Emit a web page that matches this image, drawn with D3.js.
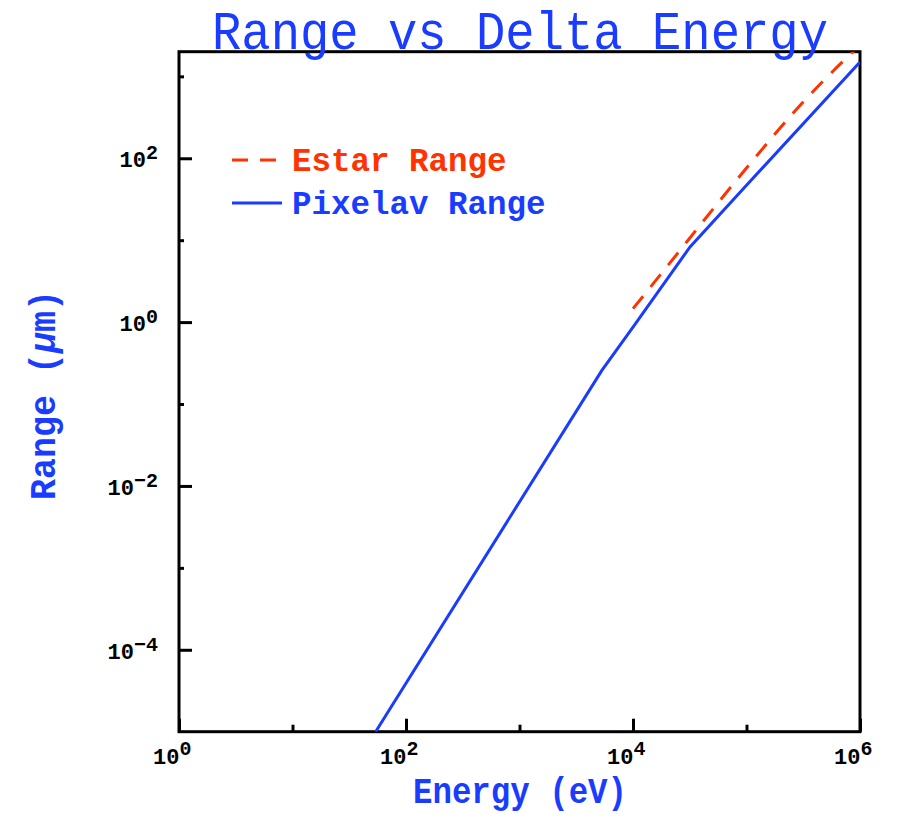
<!DOCTYPE html>
<html>
<head>
<meta charset="utf-8">
<script src="https://cdn.jsdelivr.net/npm/d3@7"></script>
<style>
  html, body { margin: 0; padding: 0; background: #fff; }
  svg { display: block; }
</style>
</head>
<body>
<svg id="chart" width="897" height="814"></svg>
<script>
// Electron range in silicon versus kinetic energy
const energyPixelav = [54, 5300, 10000, 31800, 100000, 1000000];   // eV
const rangePixelav  = [1e-5, 0.256, 0.87, 8.28, 46.8, 1496];       // µm

const energyEstar = [10000, 20000, 55000, 100000, 300000, 700000, 1000000]; // eV
const rangeEstar  = [1.46, 4.8, 27.6, 76, 450, 1500, 2390];               // µm

const xMajorTicks = [1, 1e2, 1e4, 1e6];
const xMinorTicks = [1e1, 1e3, 1e5];
const yMajorTicks = [1e-4, 1e-2, 1, 1e2];
const yMinorTicks = [1e-3, 1e-1, 1e1, 1e3];

const titleText = "Range vs Delta Energy";
const xTitle = "Energy (eV)";
const seriesNames = ["Estar Range", "Pixelav Range"];

const BLUE = "#1a3cff";
const RED = "#ff3300";
const MONO = "'Liberation Mono', 'DejaVu Sans Mono', monospace";

const svg = d3.select("#chart");
const plot = { left: 179, right: 860, top: 51.7, bottom: 731.7 };

const x = d3.scaleLog().domain([1, 1e6]).range([plot.left, plot.right]);
const y = d3.scaleLog().domain([1e-5, 2000]).range([plot.bottom, plot.top]);

// clip region for the curves
svg.append("defs").append("clipPath").attr("id", "plotClip")
  .append("rect")
  .attr("x", plot.left).attr("y", plot.top)
  .attr("width", plot.right - plot.left).attr("height", plot.bottom - plot.top);

// inward ticks
function tickAxis(axis, g) {
  g.call(axis);
  g.select(".domain").remove();
  g.selectAll(".tick line").attr("stroke", "#000").attr("stroke-width", 3);
  g.selectAll(".tick text").remove();
}
const gx = svg.append("g").attr("transform", `translate(0,${plot.bottom})`);
tickAxis(d3.axisBottom(x).tickValues(xMajorTicks).tickSize(-13).tickFormat(""), gx.append("g"));
tickAxis(d3.axisBottom(x).tickValues(xMinorTicks).tickSize(-7).tickFormat(""), gx.append("g"));
const gy = svg.append("g").attr("transform", `translate(${plot.left},0)`);
tickAxis(d3.axisLeft(y).tickValues(yMajorTicks).tickSize(-13).tickFormat(""), gy.append("g"));
tickAxis(d3.axisLeft(y).tickValues(yMinorTicks).tickSize(-5).tickFormat(""), gy.append("g"));

// frame
svg.append("rect")
  .attr("x", plot.left).attr("y", plot.top)
  .attr("width", plot.right - plot.left).attr("height", plot.bottom - plot.top)
  .attr("fill", "none").attr("stroke", "#000").attr("stroke-width", 3);

// power-of-ten labels
const expOf = v => Math.round(Math.log10(v));
const expText = e => (e < 0 ? "\u2212" + (-e) : String(e));

svg.append("g").selectAll("text").data(xMajorTicks).join("text")
  .attr("x", d => x(d)).attr("y", 764)
  .attr("text-anchor", "start")
  .attr("font-family", MONO).attr("font-weight", "bold").attr("font-size", 22)
  .each(function(d) {
    const t = d3.select(this);
    t.append("tspan").attr("dx", -26).text("10");
    t.append("tspan").attr("dy", -9).attr("font-size", 20).text(expText(expOf(d)));
  });

svg.append("g").selectAll("text").data(yMajorTicks).join("text")
  .attr("x", 158).attr("y", d => y(d) + 9)
  .attr("text-anchor", "end")
  .attr("font-family", MONO).attr("font-weight", "bold").attr("font-size", 22)
  .each(function(d) {
    const t = d3.select(this);
    t.append("tspan").text("10");
    t.append("tspan").attr("dy", -8).attr("font-size", 20).text(expText(expOf(d)));
  });

// curves
const line = d3.line().x(d => x(d[0])).y(d => y(d[1]));
const curves = svg.append("g").attr("clip-path", "url(#plotClip)");
curves.append("path")
  .datum(d3.zip(energyEstar, rangeEstar))
  .attr("d", line.curve(d3.curveMonotoneX)).attr("fill", "none")
  .attr("stroke", RED).attr("stroke-width", 3)
  .attr("stroke-dasharray", "16,12");
curves.append("path")
  .datum(d3.zip(energyPixelav, rangePixelav))
  .attr("d", line.curve(d3.curveLinear)).attr("fill", "none")
  .attr("stroke", BLUE).attr("stroke-width", 3);

// legend
const legend = svg.append("g");
const legendRows = [
  { name: seriesNames[0], color: RED, dash: "16,12", y: 160 },
  { name: seriesNames[1], color: BLUE, dash: null, y: 203 }
];
legendRows.forEach(r => {
  legend.append("line")
    .attr("x1", 232).attr("x2", 282).attr("y1", r.y).attr("y2", r.y)
    .attr("stroke", r.color).attr("stroke-width", 3)
    .attr("stroke-dasharray", r.dash);
  legend.append("text")
    .attr("x", 292).attr("y", r.y + 11)
    .attr("font-family", MONO).attr("font-weight", "bold").attr("font-size", 33)
    .attr("fill", r.color)
    .attr("textLength", r.name.length * 19.5).attr("lengthAdjust", "spacingAndGlyphs")
    .text(r.name);
});

// title
svg.append("text")
  .attr("x", 520).attr("y", 49)
  .attr("text-anchor", "middle")
  .attr("font-family", MONO).attr("font-size", 54)
  .attr("fill", BLUE)
  .attr("textLength", 616).attr("lengthAdjust", "spacingAndGlyphs")
  .text(titleText);

// axis titles
svg.append("text")
  .attr("x", 520).attr("y", 803)
  .attr("text-anchor", "middle")
  .attr("font-family", MONO).attr("font-weight", "bold").attr("font-size", 36)
  .attr("fill", BLUE)
  .attr("textLength", 214).attr("lengthAdjust", "spacingAndGlyphs")
  .text(xTitle);

const yTitle = svg.append("text")
  .attr("transform", "translate(55,395) rotate(-90)")
  .attr("text-anchor", "middle")
  .attr("font-family", MONO).attr("font-weight", "bold").attr("font-size", 36)
  .attr("fill", BLUE)
  .attr("textLength", 210).attr("lengthAdjust", "spacingAndGlyphs");
yTitle.append("tspan").text("Range (");
yTitle.append("tspan").attr("font-style", "italic").text("\u03bc");
yTitle.append("tspan").text("m)");
</script>
</body>
</html>
